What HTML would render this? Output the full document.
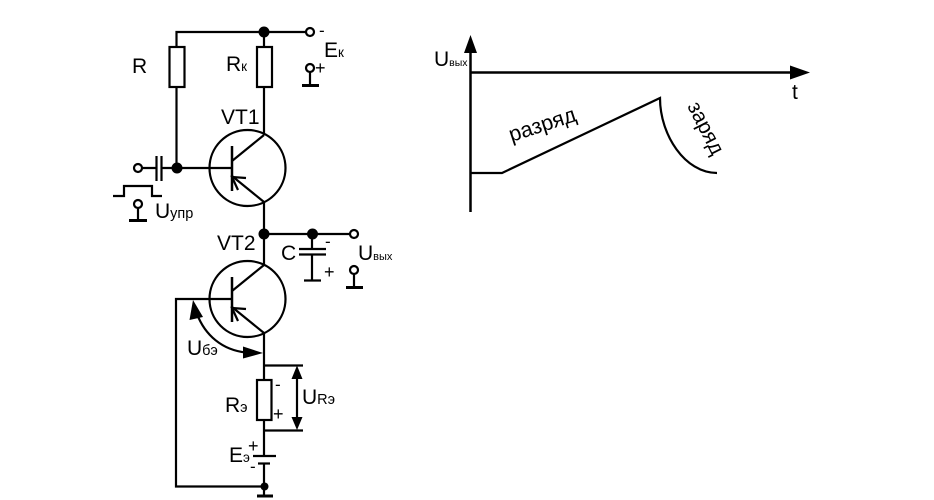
<!DOCTYPE html>
<html><head><meta charset="utf-8"><style>
html,body{margin:0;padding:0;background:#fff;width:934px;height:500px;overflow:hidden}
svg{display:block}
text{font-family:"Liberation Sans",sans-serif;fill:#000}
.s{font-size:13.500px}
.v{font-size:11px}
.u{font-size:14.500px}
.p{font-size:18px}
</style></head><body>
<svg width="934" height="500" viewBox="0 0 934 500" xmlns="http://www.w3.org/2000/svg">
<g fill="none" stroke="#000" stroke-width="2.200">
<path d="M176.500 87V168M176.500 47V32H306M264 32V47M264 87V135"/>
<rect x="169.500" y="47" width="15" height="40"/>
<rect x="257" y="47" width="15" height="40"/>
<circle cx="310" cy="32" r="4"/>
<circle cx="310" cy="68" r="4"/>
<path d="M310 72V85"/>
<path d="M302 85.500H319" stroke-width="3"/>
<circle cx="247.500" cy="168" r="38"/>
<path d="M232 146V191" stroke-width="2.500"/>
<path d="M142 168H156M161 168H232M156.500 156V181M161.500 156V181"/>
<path d="M232 161L264 135M232 176L264 202"/>
<path d="M246 178L232 177L238 190"/>
<circle cx="138" cy="168" r="4"/>
<path d="M113 196H124V186H152V196H162"/>
<circle cx="138" cy="204" r="4"/>
<path d="M138 208V220"/>
<path d="M129 220.500H147" stroke-width="3"/>
<path d="M264 202V265"/>
<path d="M264 234H350M312 234V249M312 254V280"/>
<path d="M299 249H326M299 254.500H326"/>
<path d="M304 280.500H321"/>
<circle cx="354" cy="234" r="4"/>
<circle cx="354" cy="270" r="4"/>
<path d="M354 274V287"/>
<path d="M346 287.500H363" stroke-width="3"/>
<circle cx="247.500" cy="299" r="38"/>
<path d="M232 277V322" stroke-width="2.500"/>
<path d="M232 299H176V486.500H264"/>
<path d="M232 291L264 265M232 307L264 333"/>
<path d="M246 309L232 308L238 321"/>
<path d="M264 333V380M264 420V456M264 463V496"/>
<rect x="257" y="380" width="14.500" height="40"/>
<path d="M264 365.500H303M264 430.500H303"/>
<path d="M297 372V424"/>
<path d="M253 456H276"/>
<path d="M258 463.500H270"/>
<path d="M257 496H273" stroke-width="3"/>
<path d="M197 314C205 335 222 350 246 352.500"/>
<path d="M470.500 212V50" stroke-width="2.500"/>
<path d="M470 72.500H792" stroke-width="2.500"/>
<path d="M470 173H502L660 98C660 135 685 173 717 173"/>
</g>
<g fill="#000">
<circle cx="264" cy="32" r="5.500"/>
<circle cx="177" cy="168" r="5.500"/>
<circle cx="264" cy="234" r="5.500"/>
<circle cx="312.500" cy="234" r="5.500"/>
<circle cx="264.500" cy="486.500" r="4"/>
<path d="M193 300L203 317L189.500 320Z"/>
<path d="M263 353L243 346.500V358.500Z"/>
<path d="M297 365.500L302.500 379H291.500Z"/>
<path d="M297 430L302.500 417H291.500Z"/>
<path d="M470.500 35L477 53H464Z"/>
<path d="M810 72.500L790 65.500V79.500Z"/>
</g>
<g font-size="21">
<text x="132" y="73">R</text>
<text x="226" y="71">R<tspan class="s">к</tspan></text>
<text x="324" y="57">E<tspan class="s">к</tspan></text>
<text x="319" y="36" font-size="17">-</text>
<text x="315" y="74" class="p">+</text>
<text x="221" y="124">VT1</text>
<text x="155" y="218">U<tspan class="u">упр</tspan></text>
<text x="217" y="250">VT2</text>
<text x="281" y="260">C</text>
<text x="325" y="247" font-size="17">-</text>
<text x="324" y="278" class="p">+</text>
<text x="358" y="260">U<tspan class="v">вых</tspan></text>
<text x="187" y="355">U<tspan class="u">бэ</tspan></text>
<text x="225" y="412">R<tspan class="u">э</tspan></text>
<text x="275" y="390" font-size="17">-</text>
<text x="273" y="420" class="p">+</text>
<text x="302" y="404">U<tspan class="u">Rэ</tspan></text>
<text x="229" y="462">E<tspan class="s">э</tspan></text>
<text x="248" y="452" class="p">+</text>
<text x="250" y="472" font-size="17">-</text>
<text x="434" y="66">U<tspan style="font-size:10.500px">вых</tspan></text>
<text x="792" y="99">t</text>
<text transform="translate(511.500 142) rotate(-18)" font-size="21.500">разряд</text>
<text transform="translate(687 106) rotate(63)">заряд</text>
</g>
</svg>
</body></html>
